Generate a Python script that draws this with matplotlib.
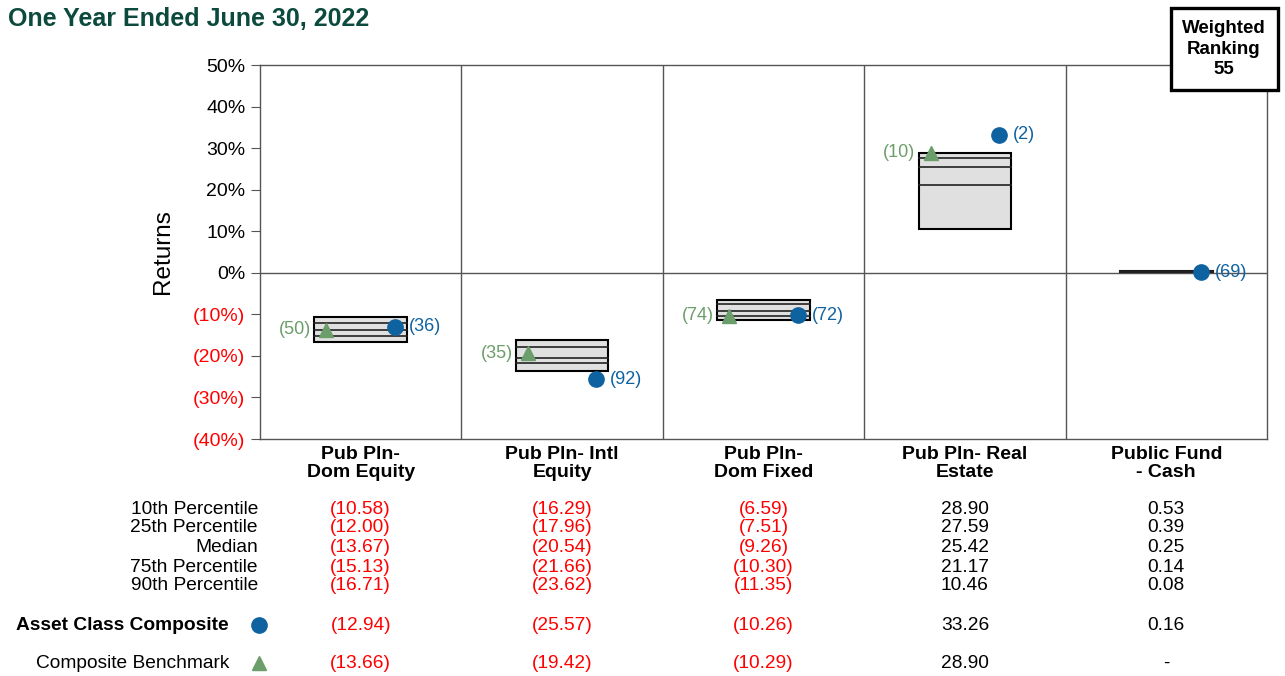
import matplotlib
matplotlib.use('Agg')
import matplotlib.pyplot as plt
import matplotlib.transforms as mtransforms
from matplotlib.patches import Rectangle

plt.rcParams['font.family'] = ['Liberation Sans', 'DejaVu Sans']

# datos del gráfico
categorias = ['Pub Pln-\nDom Equity', 'Pub Pln- Intl\nEquity', 'Pub Pln-\nDom Fixed',
              'Pub Pln- Real\nEstate', 'Public Fund\n- Cash']
p10 = [-10.58, -16.29, -6.59, 28.90, 0.53]
p25 = [-12.00, -17.96, -7.51, 27.59, 0.39]
mediana = [-13.67, -20.54, -9.26, 25.42, 0.25]
p75 = [-15.13, -21.66, -10.30, 21.17, 0.14]
p90 = [-16.71, -23.62, -11.35, 10.46, 0.08]
compuesto = [-12.94, -25.57, -10.26, 33.26, 0.16]
rank_compuesto = [36, 92, 72, 2, 69]
benchmark = [-13.66, -19.42, -10.29, 28.90, None]
rank_benchmark = [50, 35, 74, 10, None]
ticks_y = [50, 40, 30, 20, 10, 0, -10, -20, -30, -40]

azul = '#0f62a0'
verde = '#6b9e6b'
rojo = '#ff0000'
FS = 13.8  # tamaño de letra de la tabla

fig = plt.figure(figsize=(12.85, 6.76), dpi=100)
ax = fig.add_axes([260 / 1285, 1 - 439 / 676, 1007 / 1285, 374 / 676])
ax.set_xlim(0, 5)
ax.set_ylim(-40, 50)

# cajas de percentiles
ancho = 0.23
for i in range(5):
    c = i + 0.5
    ax.add_patch(Rectangle((c - ancho, p90[i]), 2 * ancho, p10[i] - p90[i],
                           facecolor='#e0e0e0', edgecolor='black', lw=1.5, zorder=3))
    for v in (p25[i], mediana[i], p75[i]):
        ax.plot([c - ancho, c + ancho], [v, v], color='#222222', lw=1.2, zorder=4)

    # composite (círculo azul)
    xc = c + 0.17
    ax.plot(xc, compuesto[i], 'o', color=azul, ms=11, zorder=6)
    ax.annotate('(%d)' % rank_compuesto[i], (xc, compuesto[i]), xytext=(10, 0),
                textcoords='offset points', ha='left', va='center', color=azul, fontsize=13)

    # benchmark (triángulo verde)
    if benchmark[i] is not None:
        xb = c - 0.17
        ax.plot(xb, benchmark[i], '^', color=verde, ms=10, zorder=6)
        ax.annotate('(%d)' % rank_benchmark[i], (xb, benchmark[i]), xytext=(-11, 0),
                    textcoords='offset points', ha='right', va='center', color=verde, fontsize=13)

# lineas de grilla
for i in range(1, 5):
    ax.axvline(i, color='#555555', lw=1, zorder=1)
ax.axhline(0, color='#555555', lw=1, zorder=1)
for s in ax.spines.values():
    s.set_color('#555555')
    s.set_linewidth(1)

ax.set_yticks(ticks_y)
ax.set_yticklabels(['%d%%' % t if t >= 0 else '(%d%%)' % -t for t in ticks_y], fontsize=14)
for lbl, t in zip(ax.get_yticklabels(), ticks_y):
    lbl.set_color('black' if t >= 0 else rojo)
ax.tick_params(axis='y', length=6.5, color='#555555', pad=4)
ax.set_xticks([])
ax.set_ylabel('Returns', fontsize=17.5, labelpad=14)

# etiquetas de categorías
for i, cat in enumerate(categorias):
    ax.text(i + 0.5, -41.6, cat, ha='center', va='top', fontsize=14, fontweight='bold',
            linespacing=1.12)

# título
fig.text(8 / 1285, 1 - 19 / 676, 'One Year Ended June 30, 2022', fontsize=18, fontweight='bold',
         color='#0b4a3c', ha='left', va='center')

# caja de ranking ponderado
fig.text(1224 / 1285, 1 - 49 / 676, 'Weighted\nRanking\n55', ha='center', va='center',
         fontsize=13.5, fontweight='bold', linespacing=1.3,
         bbox=dict(boxstyle='square,pad=0.62', facecolor='white', edgecolor='black', lw=2.4))

# tabla inferior
tr = mtransforms.blended_transform_factory(ax.transData, fig.transFigure)
filas = [('10th Percentile', p10, 509), ('25th Percentile', p25, 528), ('Median', mediana, 548),
         ('75th Percentile', p75, 567), ('90th Percentile', p90, 586)]


def fmt(v):
    if v is None:
        return '-', 'black'
    if v < 0:
        return '(%.2f)' % -v, rojo
    return '%.2f' % v, 'black'


for nombre, vals, ypx in filas:
    yf = 1 - ypx / 676
    fig.text(258 / 1285, yf, nombre, ha='right', va='center', fontsize=FS)
    for i, v in enumerate(vals):
        s, col = fmt(v)
        ax.text(i + 0.5, yf, s, transform=tr, ha='center', va='center', fontsize=FS, color=col)

y_comp = 1 - 625 / 676
fig.text(229 / 1285, y_comp, 'Asset Class Composite', ha='right', va='center', fontsize=FS,
         fontweight='bold')
fig.lines.append(plt.Line2D([259 / 1285], [y_comp], marker='o', color=azul, ms=11,
                            transform=fig.transFigure))
for i, v in enumerate(compuesto):
    s, col = fmt(v)
    ax.text(i + 0.5, y_comp, s, transform=tr, ha='center', va='center', fontsize=FS, color=col)

y_bench = 1 - 663 / 676
fig.text(229 / 1285, y_bench, 'Composite Benchmark', ha='right', va='center', fontsize=FS)
fig.lines.append(plt.Line2D([259 / 1285], [y_bench], marker='^', color=verde, ms=10,
                            transform=fig.transFigure))
for i, v in enumerate(benchmark):
    s, col = fmt(v)
    ax.text(i + 0.5, y_bench, s, transform=tr, ha='center', va='center', fontsize=FS, color=col)

fig.savefig('out.png', dpi=100)
